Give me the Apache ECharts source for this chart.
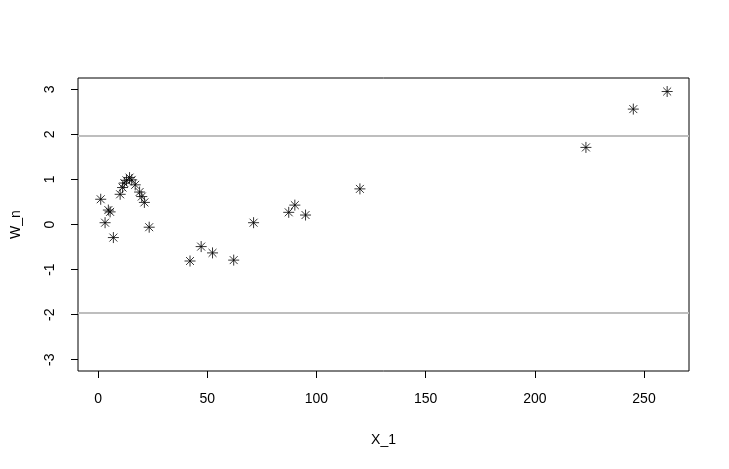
<!DOCTYPE html>
<html>
<head>
<meta charset="utf-8">
<script src="https://cdn.jsdelivr.net/npm/echarts@6/dist/echarts.min.js"></script>
<style>
  html, body { margin: 0; padding: 0; background: #fff; }
  #chart { width: 729px; height: 469px; }
</style>
</head>
<body>
<div id="chart"></div>
<script>
// data
const xValues = [1.2, 3.2, 4.7, 5.5, 7, 10.1, 11.2, 12, 13, 14.4, 15.4, 17, 19, 20, 21.2, 23.4,
  42.1, 47.2, 52.4, 62.1, 71.2, 87.3, 90.1, 95, 119.9, 223.4, 245.1, 260.6]
const yValues = [0.56, 0.04, 0.32, 0.28, -0.29, 0.67, 0.82, 0.92, 0.98, 1.04, 0.99, 0.88, 0.72, 0.62, 0.49, -0.06,
  -0.81, -0.49, -0.63, -0.79, 0.04, 0.27, 0.43, 0.21, 0.79, 1.71, 2.56, 2.95]
const xTicks = [0, 50, 100, 150, 200, 250]
const yTicks = [-3, -2, -1, 0, 1, 2, 3]
const refLines = [-1.96, 1.96]

const points = xValues.map((x, i) => [x, yValues[i]])
const font = 'Liberation Sans, Arial, sans-serif'
const asterisk = 'path://M0,-1L0,1M-1,0L1,0M-0.72,-0.72L0.72,0.72M-0.72,0.72L0.72,-0.72'

const chart = echarts.init(document.getElementById('chart'))
chart.setOption({
  animation: false,
  grid: { left: 78, top: 78, right: 40, bottom: 98, show: true, borderColor: '#000', borderWidth: 1 },
  xAxis: {
    type: 'value', min: -9.2, max: 270.6,
    name: 'X_1', nameLocation: 'middle', nameGap: 62,
    nameTextStyle: { fontFamily: font, fontSize: 14, color: '#000' },
    axisLine: { show: false, onZero: false },
    splitLine: { show: false },
    axisTick: { show: true, length: 7, lineStyle: { color: '#000' }, customValues: xTicks },
    axisLabel: { fontFamily: font, fontSize: 14, color: '#000', margin: 21, customValues: xTicks }
  },
  yAxis: {
    type: 'value', min: -3.25, max: 3.25,
    name: 'W_n', nameLocation: 'middle', nameGap: 55, nameRotate: 90,
    nameTextStyle: { fontFamily: font, fontSize: 14, color: '#000' },
    axisLine: { show: false, onZero: false },
    splitLine: { show: false },
    axisTick: { show: true, length: 7, lineStyle: { color: '#000' }, customValues: yTicks },
    axisLabel: { fontFamily: font, fontSize: 14, color: '#000', margin: 21, rotate: 90, customValues: yTicks }
  },
  series: [{
    type: 'scatter',
    data: points,
    symbol: asterisk,
    symbolSize: 11,
    itemStyle: { color: 'rgba(0,0,0,0)', borderColor: '#000', borderWidth: 1 },
    markLine: {
      silent: true,
      symbol: 'none',
      label: { show: false },
      lineStyle: { color: '#bebebe', width: 2, type: 'solid' },
      data: refLines.map((v) => ({ yAxis: v }))
    }
  }]
})
</script>
</body>
</html>
